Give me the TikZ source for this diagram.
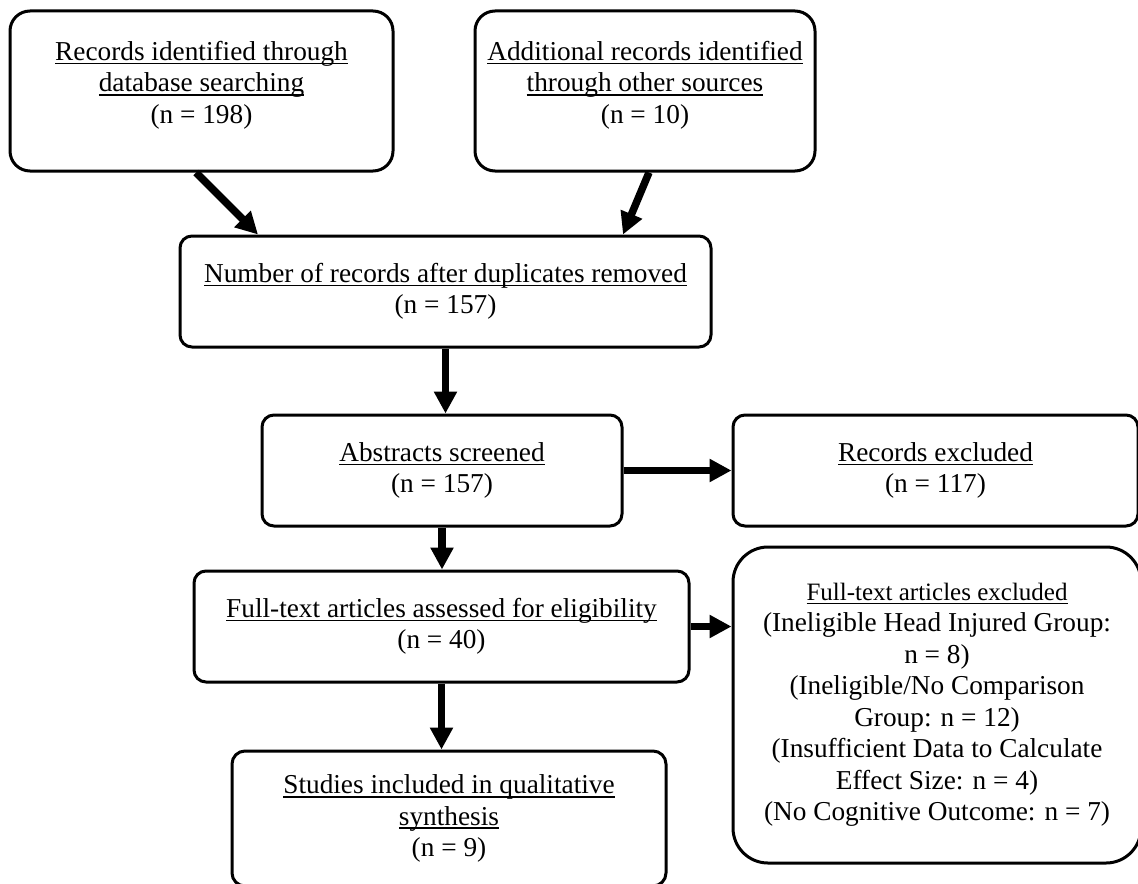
\documentclass[tikz,border=0pt]{standalone}
\usepackage{fontspec}
\setmainfont{Liberation Serif}
\usetikzlibrary{arrows.meta}

\newcommand{\ulined}[1]{\setbox0\hbox{#1}\rlap{\rule[-2pt]{\wd0}{0.8pt}}\box0}

\begin{document}
\begin{tikzpicture}[x=0.5pt,y=-0.5pt,
    box/.style={draw,line width=1.5pt,rounded corners=6pt,align=center,inner sep=0pt,
        font=\fontsize{13.65}{15.75}\selectfont},
    arr/.style={line width=3.75pt,-{Triangle[length=11pt,width=11pt]}}]
            \def\boxH{55.5pt}

            \useasboundingbox (0,0) rectangle (1138,883);

            \node[box,rounded corners=10pt,minimum width=191.5pt,minimum height=80pt,text depth=9pt] (recdb) at (201.5,91)
                  {\ulined{Records identified through}\\\ulined{database searching}\\(n = 198)};
            \node[box,rounded corners=10pt,minimum width=170pt,minimum height=80pt,text depth=9pt] (addrec) at (645,91)
                  {\ulined{Additional records identified}\\\ulined{through other sources}\\(n = 10)};

            \node[box,minimum width=265.5pt,minimum height=\boxH] (nrec) at (445.5,291.5)
                  {\ulined{Number of records after duplicates removed}\\(n = 157)};
            \node[box,minimum width=180pt,minimum height=\boxH] (abs) at (442,470.5)
                  {\ulined{Abstracts screened}\\(n = 157)};
            \node[box,minimum width=202.5pt,minimum height=\boxH] (recexcl) at (935.5,470.5)
                  {\ulined{Records excluded}\\(n = 117)};
            \node[box,minimum width=247.5pt,minimum height=\boxH] (ftass) at (441.5,626.5)
                  {\ulined{Full-text articles assessed for eligibility}\\(n = 40)};
            \node[box,rounded corners=17.5pt,minimum width=204pt,minimum height=158pt] (ftexcl) at (937,705)
                  {{\fontsize{12.5}{15}\selectfont\ulined{Full-text articles excluded}}\\(Ineligible Head Injured Group:\\n = 8)\\(Ineligible/No Comparison\\Group: n = 12)\\(Insufficient Data to Calculate\\Effect Size: n = 4)\\(No Cognitive Outcome: n = 7)};
            \node[box,rounded corners=6.5pt,minimum width=217pt,minimum height=67.5pt] (studies) at (449,818.5)
                  {\ulined{Studies included in qualitative}\\\ulined{synthesis}\\(n = 9)};

            \draw[arr] ([xshift=-2.75pt]recdb.south) -- ([xshift=-93.75pt]nrec.north);
            \draw[arr] ([xshift=2pt]addrec.south) -- ([xshift=88.75pt]nrec.north);

            \foreach \a/\b in {nrec/abs,abs/ftass,ftass/studies} {
                        \draw[arr] (\a.south) -- (\a.south |- \b.north);
                  }

            \draw[arr] (abs.east) -- (recexcl.west);
            \draw[arr] (ftass.east) -- (ftass.east -| ftexcl.west);
      \end{tikzpicture}
\end{document}
